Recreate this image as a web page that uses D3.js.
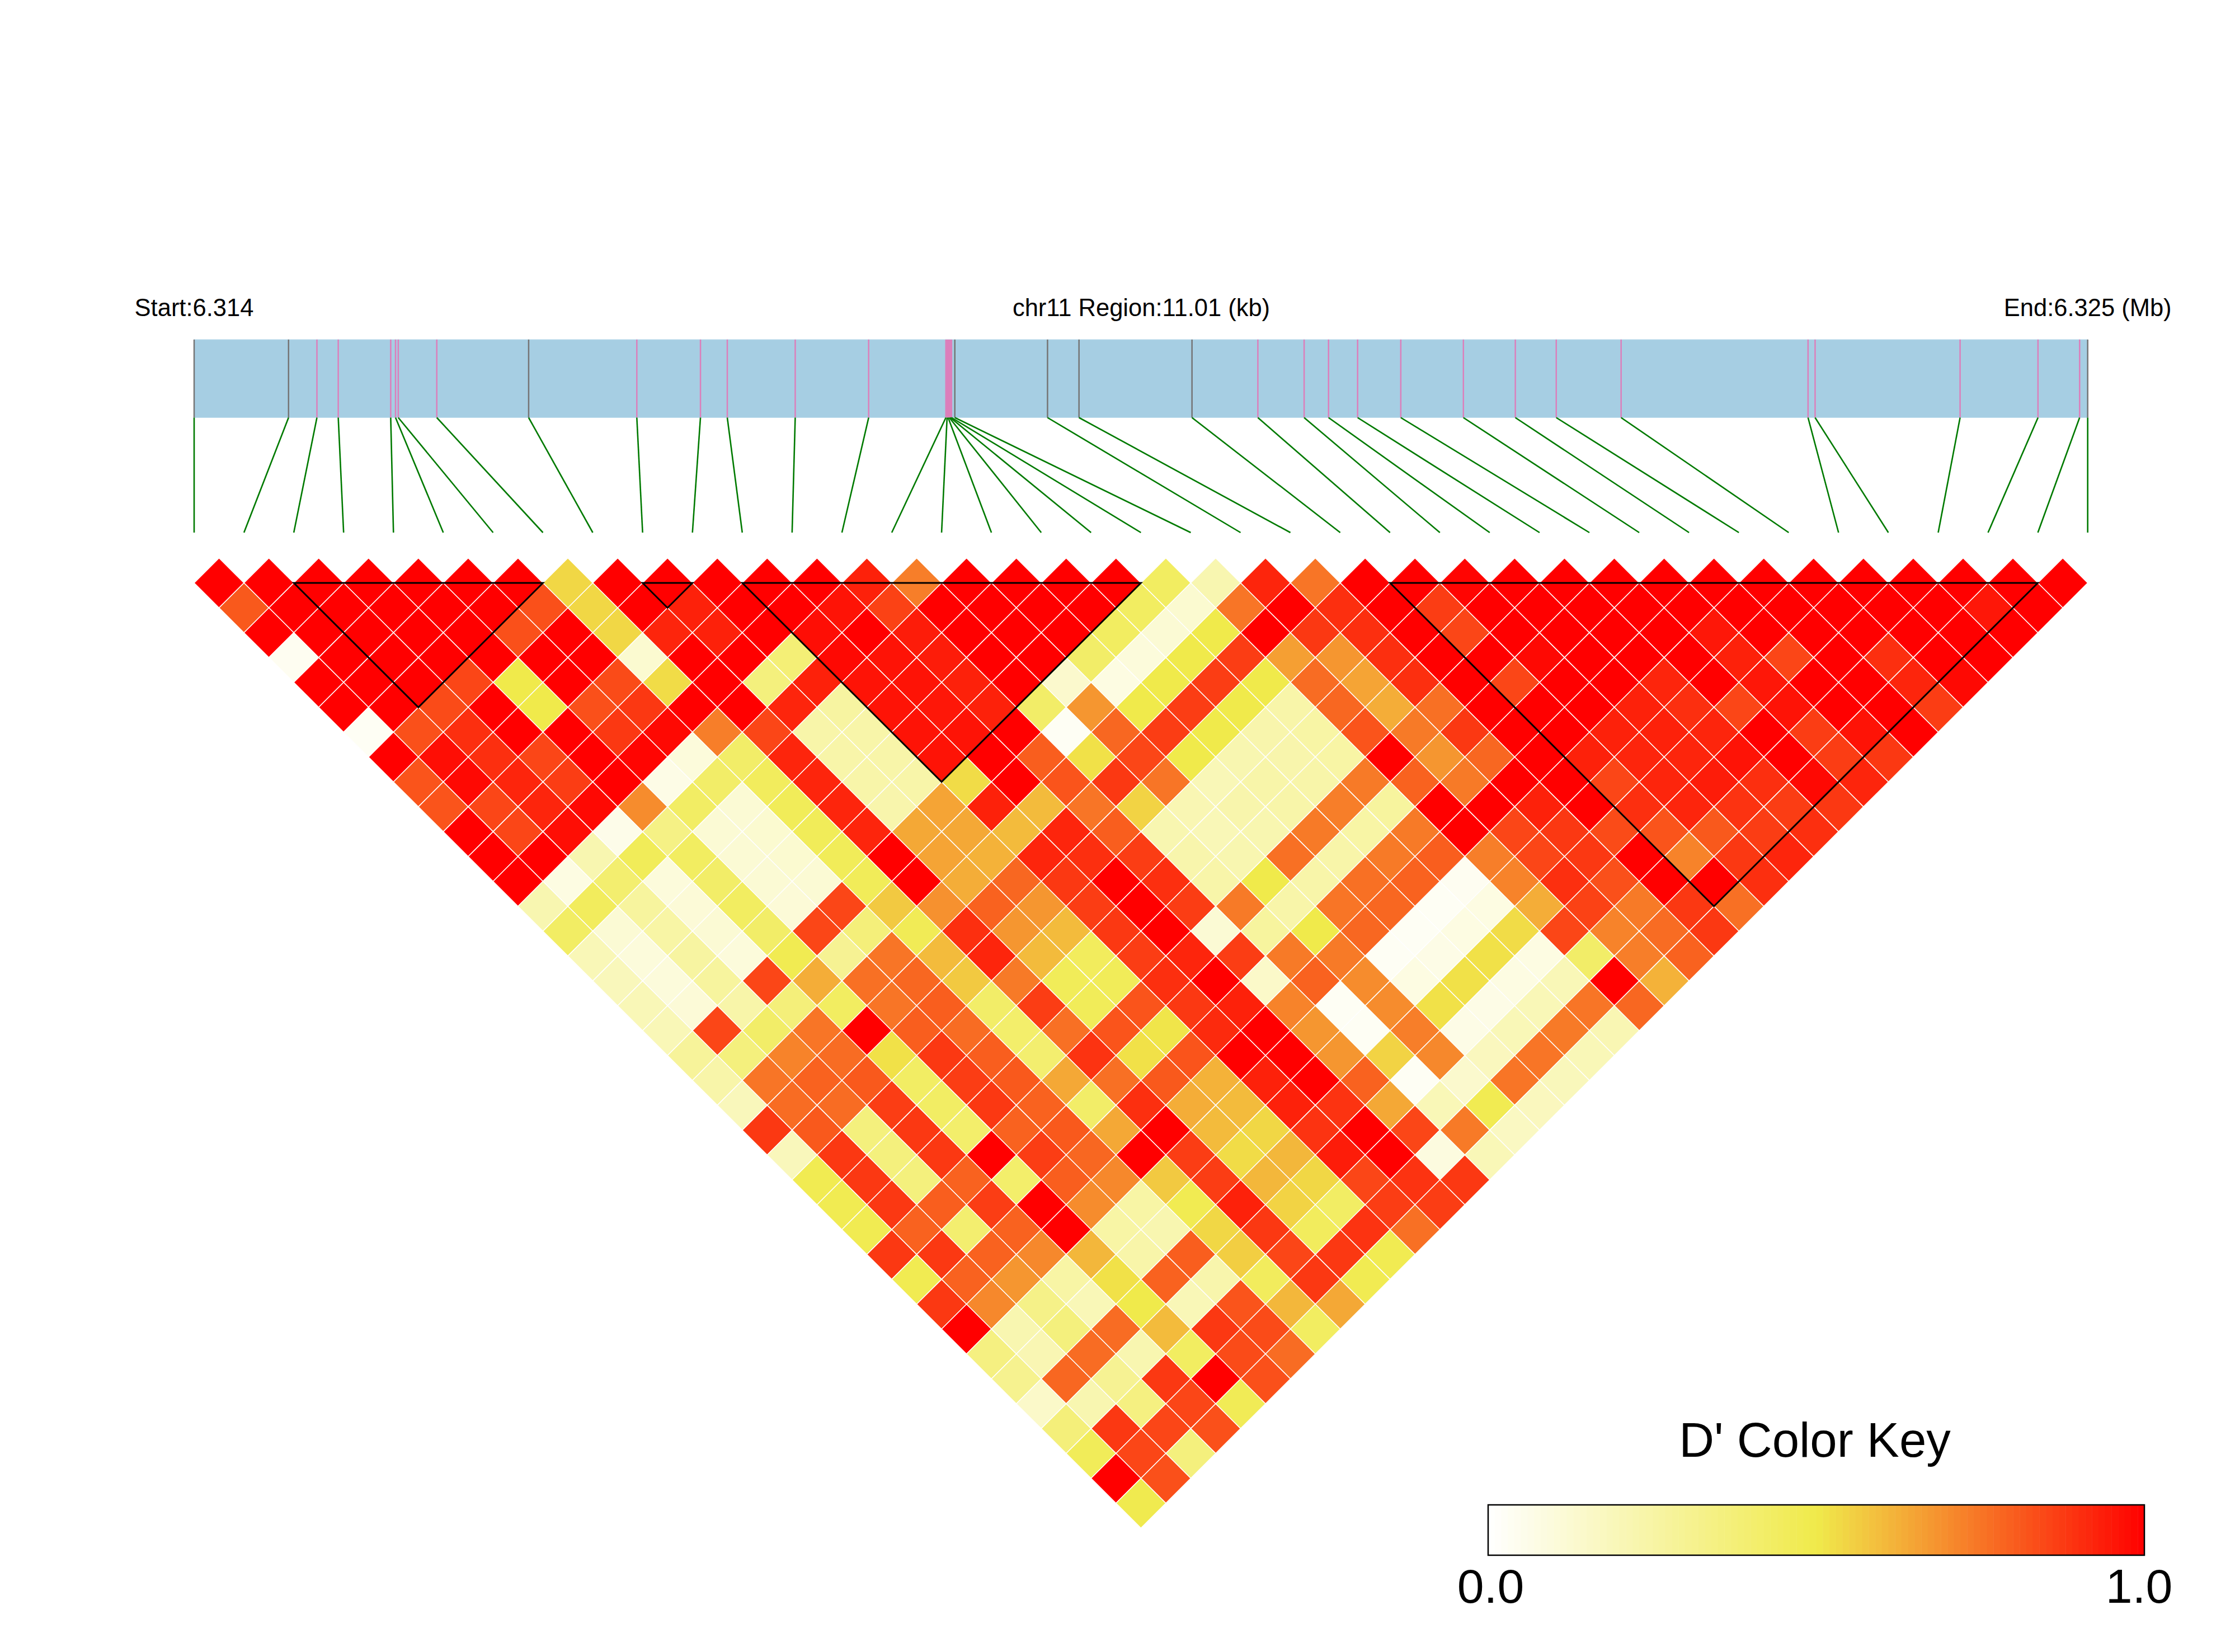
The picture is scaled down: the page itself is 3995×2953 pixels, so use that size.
<!DOCTYPE html>
<meta charset="utf-8">
<style>
  body { margin: 0; background: #fff; }
  text { font-family: "Liberation Sans", Arial, sans-serif; fill: #000; }
</style>

<!-- Load d3.js -->
<script src="https://d3js.org/d3.v7.min.js"></script>

<div id="my_dataviz"></div>

<script>

// SNP positions along the region, kb from the start
var snpPos = [0, .549, .714, .838, 1.143, 1.171, 1.187, 1.411, 1.945, 2.574, 2.944, 3.100, 3.495, 3.922,
  4.371, 4.378, 4.384, 4.391, 4.397, 4.404, 4.423, 4.962, 5.145, 5.802, 6.185, 6.454, 6.596, 6.765, 7.016,
  7.380, 7.682, 7.920, 8.297, 9.384, 9.425, 10.268, 10.721, 10.963, 11.01];

// the SNPs whose tick on the gene bar is grey, all others are pink
var greySnps = [0, 1, 8, 20, 21, 22, 23, 38];

// LD blocks, first and last SNP
var blockStart = [2, 9, 11, 24];
var blockEnd = [7, 10, 19, 37];

var regionLabels = ["Start:6.314", "chr11 Region:11.01 (kb)", "End:6.325 (Mb)"];
var keyTitle = "D' Color Key";
var keyTicks = [0, 1];

// D' values, one array per horizontal row of the triangle (top row first)
var row00 = [1,1,1,1,1,1,1,.54,1,1,1,1,1,.93,.73,1,1,1,1,.44,.22,.92,.75,1,1,.99,1,1,1,1,1,1,1,1,1,1,1,1];
var row01 = [.81,1,1,1,1,1,.83,.54,1,.93,1,1,.96,.86,1,1,1,1,.44,.13,.75,1,.9,1,.87,1,1,1,1,1,1,1,1,1,1,.95,1];
var row02 = [1,1,1,1,1,.83,1,.54,.92,.93,1,.97,1,.94,1,1,1,.44,.12,.5,1,.88,.9,1,.85,1,1,1,1,.95,1,1,1,1,1,1];
var row03 = [.04,1,1,1,1,1,1,.13,1,1,.38,.98,.96,.94,1,1,.42,.1,.5,.87,.66,.68,.9,1,1,.98,1,1,1,.93,.85,1,.9,1,1];
var row04 = [1,1,1,.85,.5,1,.84,.53,1,.36,.93,.96,.96,.93,1,.14,.08,.5,.87,.5,.77,.65,.9,1,.85,1,1,.92,1,.95,1,1,.92,.98];
var row05 = [1,1,.84,1,.5,.83,.88,1,1,.92,.26,.96,.95,.93,.42,.68,.5,.87,.5,.24,.78,.63,.76,1,1,1,.93,.9,.85,.96,1,1,.87];
var row06 = [.03,.83,.9,1,1,.88,.98,.73,.85,.24,.24,.96,.96,1,.03,.78,.87,.5,.23,.25,.82,.74,.88,1,1,.93,.93,.92,1,.87,.96,1];
var row07 = [1,.97,.9,.85,1,.99,.1,.42,.92,.24,.24,.96,1,.8,.52,.85,.5,.22,.23,.25,1,.68,.78,1,.93,.92,.92,.96,1,.87,.88];
var row08 = [.82,.98,.92,.87,1,.07,.42,.45,.92,.24,.24,.53,1,.82,.88,.75,.2,.24,.24,.74,.79,.74,1,1,.85,.92,.94,.9,.98,.92];
var row09 = [.82,.85,.92,.98,.7,.43,.12,.46,.92,.23,.65,.93,.6,.75,.55,.21,.23,.24,.73,.27,1,1,.93,1,.9,.92,.89,.87,.88];
var row10 = [1,.85,.97,.06,.34,.12,.13,.46,.92,.64,.64,.6,.92,.8,.22,.2,.22,.74,.25,.74,1,.85,.88,.84,.82,.81,.87,.9];
var row11 = [1,1,.22,.46,.44,.12,.13,.46,1,.65,.62,.92,.9,.87,.23,.22,.76,.24,.74,.8,.73,.85,.88,1,.72,.88,.92];
var row12 = [1,.08,.4,.1,.42,.12,.12,.46,1,.63,.78,.88,1,.9,.24,.5,.24,.76,.79,.04,.72,.9,.83,1,1,.9];
var row13 = [.22,.45,.27,.11,.44,.11,.85,.57,.69,.79,.68,.87,1,.87,.74,.24,.75,.78,.03,.08,.63,.86,.74,.88,.76];
var row14 = [.43,.12,.25,.12,.42,.85,.37,.47,.9,.68,.6,.88,1,.12,.27,.5,.78,.03,.08,.53,.85,.72,.77,.88];
var row15 = [.2,.1,.26,.1,.48,.3,.75,.6,.92,.6,.45,.87,.92,.87,.74,.74,.03,.07,.52,.08,.42,.73,.79];
var row16 = [.19,.1,.27,.85,.63,.76,.78,.57,.74,.46,.46,.9,1,.15,.79,.7,.08,.52,.08,.2,1,.62];
var row17 = [.2,.11,.24,.37,.44,.75,.8,.42,.87,.46,.82,.88,.93,.72,.03,.7,.52,.07,.2,.75,.78];
var row18 = [.2,.85,.42,.75,1,.8,.77,.41,.76,.82,.51,.91,1,.68,.03,.73,.07,.2,.74,.21];
var row19 = [.28,.36,.72,.77,.52,.88,.8,.4,.89,.52,.82,1,1,.68,.55,.71,.18,.75,.2];
var row20 = [.24,.75,.79,.81,.43,.87,.81,.64,.76,.81,.62,.93,1,.79,.03,.14,.75,.19];
var row21 = [.19,.77,.77,.87,.43,.88,.79,.42,.9,.63,.6,.93,.89,.64,.2,.48,.18];
var row22 = [.88,.81,.36,.88,.41,.79,.81,.64,1,.6,.54,.89,1,.85,.74,.17];
var row23 = [.19,.88,.36,.88,1,.87,.78,1,.87,.53,.61,.94,1,.09,.2];
var row24 = [.48,.88,.36,.79,.41,.8,.71,.57,.87,.61,.54,.85,.89,.88];
var row25 = [.48,.88,.8,.87,1,.7,.25,.48,.93,.55,.43,.87,.87];
var row26 = [.48,.79,.4,.79,1,.25,.22,.54,.88,.45,.89,.76];
var row27 = [.88,.88,.79,.71,.61,.24,.8,.56,.85,.88,.48];
var row28 = [.48,.79,.68,.25,.52,.79,.23,.45,.88,.48];
var row29 = [.88,.71,.33,.2,.5,.2,.82,.61,.64];
var row30 = [1,.22,.36,.77,.6,.88,.84,.44];
var row31 = [.35,.21,.77,.22,.44,.84,.77];
var row32 = [.31,.78,.3,.88,1,.83];
var row33 = [.15,.22,.35,.85,.47];
var row34 = [.37,.88,.85,.83];
var row35 = [.46,.85,.36];
var row36 = [1,.83];
var row37 = [.49];

var ldRows = [row00, row01, row02, row03, row04, row05, row06, row07, row08, row09,
  row10, row11, row12, row13, row14, row15, row16, row17, row18, row19,
  row20, row21, row22, row23, row24, row25, row26, row27, row28, row29,
  row30, row31, row32, row33, row34, row35, row36, row37];

var width = 3995, height = 2953;

var svg = d3.select("#my_dataviz")
  .append("svg")
    .attr("width", width)
    .attr("height", height)
    .style("display", "block");

// scales
var xPos = d3.scaleLinear().domain([0, 11.01]).range([347, 3731.7]);   // physical position
var xSnp = d3.scaleLinear().domain([0, snpPos.length - 1]).range([347, 3731.7]);   // evenly spaced SNPs
var yRow = d3.scaleLinear().domain([0, ldRows.length - 1]).range([1042, 2687]);
var color = d3.scaleLinear().domain([0, .5, 1]).range(["#ffffff", "#f0ea4b", "#ff0000"]);

var barTop = 607, barBottom = 746.5, lineBottom = 952;

// region labels
var labelX = [xPos(0), 2040, xPos(11.01)];
svg.selectAll("text.region")
  .data(regionLabels)
  .enter()
  .append("text")
    .attr("class", "region")
    .attr("x", function(d, i) { return labelX[i]; })
    .attr("y", 565)
    .attr("text-anchor", "middle")
    .style("font-size", "43.5px")
    .text(function(d) { return d; });

// gene bar
svg.append("rect")
  .attr("x", xPos(0))
  .attr("y", barTop)
  .attr("width", xPos(11.01) - xPos(0))
  .attr("height", barBottom - barTop)
  .attr("fill", "#a6cee3")
  .attr("stroke", "#bcdcec")
  .attr("stroke-width", 1);

svg.selectAll("line.snp")
  .data(snpPos)
  .enter()
  .append("line")
    .attr("class", "snp")
    .attr("x1", function(d) { return xPos(d); })
    .attr("x2", function(d) { return xPos(d); })
    .attr("y1", barTop)
    .attr("y2", barBottom)
    .attr("stroke", function(d, i) { return greySnps.indexOf(i) >= 0 ? "#757575" : "#dc7fbb"; })
    .attr("stroke-width", 2.5);

// green connectors from the bar to the evenly spaced SNPs
svg.selectAll("line.link")
  .data(snpPos)
  .enter()
  .append("line")
    .attr("class", "link")
    .attr("x1", function(d) { return xPos(d); })
    .attr("x2", function(d, i) { return xSnp(i); })
    .attr("y1", barBottom)
    .attr("y2", lineBottom)
    .attr("stroke", "#007a00")
    .attr("stroke-width", 2.6);

// flatten rows to cells
var cells = [];
ldRows.forEach(function(row, r) {
  row.forEach(function(v, c) { cells.push({r: r, c: c, v: v}); });
});

// diamonds, corners come from the scales
svg.selectAll("polygon.cell")
  .data(cells)
  .enter()
  .append("polygon")
    .attr("class", "cell")
    .attr("points", function(d) {
      var s = d.c + d.r / 2;
      return [
        [xSnp(s), yRow(d.r)],
        [xSnp(s + .5), yRow(d.r - 1)],
        [xSnp(s + 1), yRow(d.r)],
        [xSnp(s + .5), yRow(d.r + 1)]
      ].join(" ");
    })
    .attr("fill", function(d) { return color(d.v); })
    .attr("stroke", "#ffffff")
    .attr("stroke-width", 1.5);

// black block triangles
svg.selectAll("polygon.block")
  .data(blockStart)
  .enter()
  .append("polygon")
    .attr("class", "block")
    .attr("points", function(a, i) {
      var b = blockEnd[i];
      return [
        [xSnp(a), yRow(0)],
        [xSnp(b), yRow(0)],
        [xSnp((a + b) / 2), yRow(b - a)]
      ].join(" ");
    })
    .attr("fill", "none")
    .attr("stroke", "#000000")
    .attr("stroke-width", 3);

// color key
var keyX = d3.scaleLinear().domain([0, 1]).range([2660, 3833]);
var keyTop = 2690, keyBottom = 2780;
var keySteps = d3.range(0, 100);

svg.selectAll("rect.key")
  .data(keySteps)
  .enter()
  .append("rect")
    .attr("class", "key")
    .attr("x", function(d) { return keyX(d / 100); })
    .attr("y", keyTop)
    .attr("width", keyX(.01) - keyX(0) + .5)
    .attr("height", keyBottom - keyTop)
    .attr("fill", function(d) { return color((d + .5) / 100); });

svg.append("rect")
  .attr("x", keyX(0))
  .attr("y", keyTop)
  .attr("width", keyX(1) - keyX(0))
  .attr("height", keyBottom - keyTop)
  .attr("fill", "none")
  .attr("stroke", "#000000")
  .attr("stroke-width", 2.5);

svg.append("text")
  .attr("x", 3244)
  .attr("y", 2604)
  .attr("text-anchor", "middle")
  .style("font-size", "87px")
  .text(keyTitle);

var keyAxis = svg.append("g")
  .attr("transform", "translate(0," + keyBottom + ")")
  .call(d3.axisBottom(keyX).tickValues(keyTicks).tickSize(0).tickFormat(d3.format(".1f")));

keyAxis.select(".domain").remove();
keyAxis.selectAll("text")
  .attr("x", function(d) { return d === 0 ? 4 : -10; })
  .attr("y", 85)
  .attr("dy", 0)
  .style("font-family", '"Liberation Sans", Arial, sans-serif')
  .style("font-size", "86px");

</script>
